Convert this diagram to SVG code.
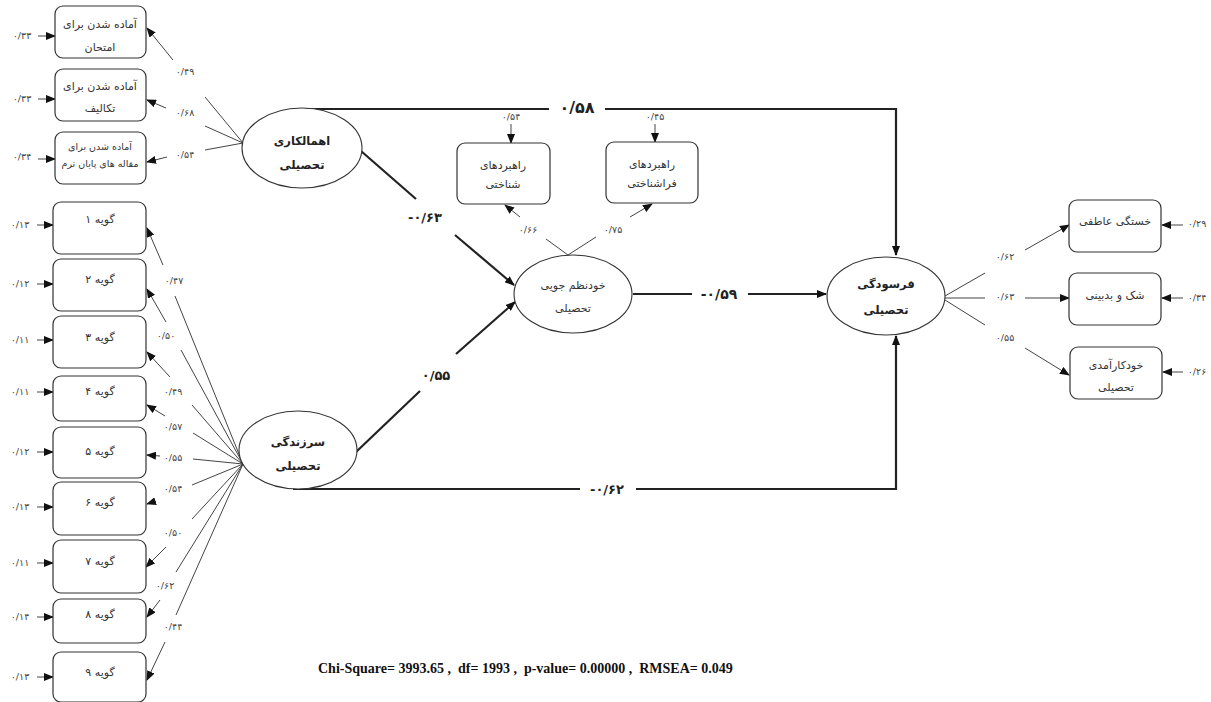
<svg xmlns="http://www.w3.org/2000/svg" width="1211" height="702" viewBox="0 0 1211 702">
<style>
.bg{fill:#fff}
.box{fill:#fff;stroke:#333;stroke-width:1.2}
.ell{fill:#fff;stroke:#333;stroke-width:1.1}
.fa{font-family:"DejaVu Sans",sans-serif;font-size:11px;fill:#333;text-anchor:middle}
.fas{font-family:"DejaVu Sans",sans-serif;font-size:9.5px;fill:#333;text-anchor:middle}
.fab{font-family:"DejaVu Sans",sans-serif;font-size:11.5px;font-weight:bold;fill:#222;text-anchor:middle}
.num{font-family:"DejaVu Sans",sans-serif;font-size:9.5px;fill:#444;text-anchor:middle}
.bnum{font-family:"DejaVu Sans",sans-serif;font-weight:bold;fill:#222;text-anchor:middle}
.thin{fill:none;stroke:#444;stroke-width:1}
.thick{fill:none;stroke:#222;stroke-width:2.2}
.stat{font-family:"Liberation Serif",serif;font-size:14px;font-weight:bold;fill:#111}
</style>
<defs>
<marker id="ah" markerUnits="userSpaceOnUse" markerWidth="10" markerHeight="8" refX="9" refY="4" orient="auto">
<path d="M0,0 L10,4 L0,8 z" fill="#111"/>
</marker>
</defs>
<rect class="bg" x="0" y="0" width="1211" height="702"/>

<g id="connectors">
<line class="thin" x1="38" y1="36" x2="55" y2="36" marker-end="url(#ah)"/>
<line class="thin" x1="38" y1="99" x2="55" y2="99" marker-end="url(#ah)"/>
<line class="thin" x1="38" y1="159" x2="55" y2="159" marker-end="url(#ah)"/>
<line class="thin" x1="37" y1="225" x2="53" y2="225" marker-end="url(#ah)"/>
<line class="thin" x1="37" y1="284" x2="53" y2="284" marker-end="url(#ah)"/>
<line class="thin" x1="37" y1="340" x2="53" y2="340" marker-end="url(#ah)"/>
<line class="thin" x1="37" y1="392" x2="53" y2="392" marker-end="url(#ah)"/>
<line class="thin" x1="37" y1="452" x2="53" y2="452" marker-end="url(#ah)"/>
<line class="thin" x1="37" y1="507" x2="53" y2="507" marker-end="url(#ah)"/>
<line class="thin" x1="37" y1="563" x2="53" y2="563" marker-end="url(#ah)"/>
<line class="thin" x1="37" y1="617" x2="53" y2="617" marker-end="url(#ah)"/>
<line class="thin" x1="37" y1="677" x2="53" y2="677" marker-end="url(#ah)"/>
<line class="thin" x1="243" y1="143" x2="205" y2="97"/>
<line class="thin" x1="173" y1="60" x2="147" y2="28" marker-end="url(#ah)"/>
<line class="thin" x1="243" y1="143" x2="205" y2="126"/>
<line class="thin" x1="166" y1="108" x2="147" y2="100" marker-end="url(#ah)"/>
<line class="thin" x1="243" y1="143" x2="205" y2="150"/>
<line class="thin" x1="167" y1="157" x2="147" y2="162" marker-end="url(#ah)"/>
<line class="thin" x1="243" y1="464" x2="175" y2="296"/>
<line class="thin" x1="163" y1="265" x2="147" y2="228" marker-end="url(#ah)"/>
<line class="thin" x1="243" y1="464" x2="181" y2="350"/>
<line class="thin" x1="166" y1="322" x2="147" y2="289" marker-end="url(#ah)"/>
<line class="thin" x1="243" y1="464" x2="192" y2="405"/>
<line class="thin" x1="170" y1="377" x2="147" y2="352" marker-end="url(#ah)"/>
<line class="thin" x1="243" y1="464" x2="193" y2="433"/>
<line class="thin" x1="165" y1="416" x2="147" y2="405" marker-end="url(#ah)"/>
<line class="thin" x1="243" y1="464" x2="193" y2="459"/>
<line class="thin" x1="160" y1="456" x2="147" y2="455" marker-end="url(#ah)"/>
<line class="thin" x1="243" y1="464" x2="192" y2="485"/>
<line class="thin" x1="156" y1="501" x2="147" y2="504" marker-end="url(#ah)"/>
<line class="thin" x1="243" y1="464" x2="192" y2="519"/>
<line class="thin" x1="166" y1="547" x2="146" y2="567" marker-end="url(#ah)"/>
<line class="thin" x1="243" y1="464" x2="176" y2="572"/>
<line class="thin" x1="160" y1="600" x2="147" y2="617" marker-end="url(#ah)"/>
<line class="thin" x1="243" y1="464" x2="176" y2="615"/>
<line class="thin" x1="165" y1="642" x2="147" y2="680" marker-end="url(#ah)"/>
<line class="thin" x1="568" y1="255" x2="546" y2="239"/>
<line class="thin" x1="520" y1="217" x2="505" y2="205" marker-end="url(#ah)"/>
<line class="thin" x1="568" y1="255" x2="596" y2="237"/>
<line class="thin" x1="630" y1="217" x2="652" y2="204" marker-end="url(#ah)"/>
<line class="thin" x1="511" y1="124" x2="511" y2="143" marker-end="url(#ah)"/>
<line class="thin" x1="655" y1="124" x2="655" y2="142" marker-end="url(#ah)"/>
<line class="thin" x1="945" y1="296" x2="985" y2="273"/>
<line class="thin" x1="1025" y1="250" x2="1069" y2="225" marker-end="url(#ah)"/>
<line class="thin" x1="945" y1="298" x2="985" y2="298"/>
<line class="thin" x1="1025" y1="298" x2="1069" y2="298" marker-end="url(#ah)"/>
<line class="thin" x1="945" y1="300" x2="985" y2="325"/>
<line class="thin" x1="1025" y1="348" x2="1069" y2="375" marker-end="url(#ah)"/>
<line class="thin" x1="1183" y1="225" x2="1162" y2="225" marker-end="url(#ah)"/>
<line class="thin" x1="1183" y1="298" x2="1162" y2="298" marker-end="url(#ah)"/>
<line class="thin" x1="1183" y1="372" x2="1163" y2="372" marker-end="url(#ah)"/>
<line class="thick" x1="305" y1="109" x2="549" y2="109"/>
<path class="thick" d="M605,109 H896 V255" marker-end="url(#ah)"/>
<line class="thick" x1="361" y1="151" x2="416" y2="199"/>
<line class="thick" x1="455" y1="235" x2="514" y2="285" marker-end="url(#ah)"/>
<line class="thick" x1="356" y1="452" x2="420" y2="391"/>
<line class="thick" x1="456" y1="354" x2="515" y2="302" marker-end="url(#ah)"/>
<line class="thick" x1="633" y1="294" x2="692" y2="294"/>
<line class="thick" x1="748" y1="294" x2="826" y2="294" marker-end="url(#ah)"/>
<line class="thick" x1="293" y1="489" x2="580" y2="489"/>
<path class="thick" d="M636,489 H896 V336" marker-end="url(#ah)"/>
</g>

<g id="labels">
<text class="num" x="22" y="39">۰/۳۳</text>
<text class="num" x="22" y="102">۰/۳۳</text>
<text class="num" x="22" y="160">۰/۳۴</text>
<text class="num" x="20" y="228">۰/۱۳</text>
<text class="num" x="20" y="287">۰/۱۲</text>
<text class="num" x="20" y="343">۰/۱۱</text>
<text class="num" x="20" y="395">۰/۱۱</text>
<text class="num" x="20" y="455">۰/۱۲</text>
<text class="num" x="20" y="510">۰/۱۳</text>
<text class="num" x="20" y="566">۰/۱۱</text>
<text class="num" x="20" y="620">۰/۱۴</text>
<text class="num" x="20" y="680">۰/۱۳</text>
<text class="num" x="185" y="75">۰/۴۹</text>
<text class="num" x="185" y="116">۰/۶۸</text>
<text class="num" x="185" y="158">۰/۵۴</text>
<text class="num" x="174" y="284">۰/۴۷</text>
<text class="num" x="166" y="339">۰/۵۰</text>
<text class="num" x="173" y="395">۰/۴۹</text>
<text class="num" x="173" y="430">۰/۵۷</text>
<text class="num" x="173" y="461">۰/۵۵</text>
<text class="num" x="173" y="492">۰/۵۴</text>
<text class="num" x="173" y="536">۰/۵۰</text>
<text class="num" x="165" y="589">۰/۶۲</text>
<text class="num" x="173" y="630">۰/۴۴</text>
<text class="num" x="511" y="120">۰/۵۴</text>
<text class="num" x="655" y="120">۰/۴۵</text>
<text class="num" x="528" y="233">۰/۶۶</text>
<text class="num" x="613" y="233">۰/۷۵</text>
<text class="num" x="1005" y="260">۰/۶۲</text>
<text class="num" x="1005" y="300">۰/۶۳</text>
<text class="num" x="1005" y="341">۰/۵۵</text>
<text class="num" x="1197" y="227">۰/۲۹</text>
<text class="num" x="1197" y="301">۰/۳۴</text>
<text class="num" x="1197" y="375">۰/۲۶</text>
<text class="bnum" x="577" y="113" font-size="16">۰/۵۸</text>
<text class="bnum" x="425" y="222" font-size="13">-۰/۶۳</text>
<text class="bnum" x="436" y="380" font-size="13">۰/۵۵</text>
<text class="bnum" x="719" y="299" font-size="14">-۰/۵۹</text>
<text class="bnum" x="607" y="494" font-size="13">-۰/۶۲</text>
<text class="stat" x="318" y="673" xml:space="preserve">Chi-Square= 3993.65 ,  df= 1993 ,  p-value= 0.00000 ,  RMSEA= 0.049</text>
</g>

<g id="n-exam"><rect class="box" x="55" y="6" width="91" height="52" rx="8"/><text class="fa" x="100" y="28">آماده شدن برای</text><text class="fa" x="100" y="51">امتحان</text></g>
<g id="n-assign"><rect class="box" x="55" y="69" width="91" height="52" rx="8"/><text class="fa" x="100" y="90">آماده شدن برای</text><text class="fa" x="100" y="112">تکالیف</text></g>
<g id="n-paper"><rect class="box" x="55" y="132" width="91" height="52" rx="8"/><text class="fas" x="100" y="150">آماده شدن برای</text><text class="fas" x="100" y="167">مقاله های پایان ترم</text></g>

<g id="n-g1"><rect class="box" x="53" y="202" width="93" height="52" rx="8"/><text class="fa" x="100" y="223">گویه ۱</text></g>
<g id="n-g2"><rect class="box" x="53" y="259" width="93" height="52" rx="8"/><text class="fa" x="100" y="283">گویه ۲</text></g>
<g id="n-g3"><rect class="box" x="53" y="316" width="93" height="52" rx="8"/><text class="fa" x="100" y="341">گویه ۳</text></g>
<g id="n-g4"><rect class="box" x="53" y="376" width="93" height="45" rx="8"/><text class="fa" x="100" y="395">گویه ۴</text></g>
<g id="n-g5"><rect class="box" x="53" y="427" width="93" height="51" rx="8"/><text class="fa" x="100" y="455">گویه ۵</text></g>
<g id="n-g6"><rect class="box" x="53" y="482" width="93" height="53" rx="8"/><text class="fa" x="100" y="506">گویه ۶</text></g>
<g id="n-g7"><rect class="box" x="53" y="540" width="93" height="53" rx="8"/><text class="fa" x="100" y="565">گویه ۷</text></g>
<g id="n-g8"><rect class="box" x="53" y="599" width="93" height="44" rx="8"/><text class="fa" x="100" y="618">گویه ۸</text></g>
<g id="n-g9"><rect class="box" x="53" y="652" width="93" height="50" rx="8"/><text class="fa" x="100" y="676">گویه ۹</text></g>

<g id="n-procrastination"><ellipse class="ell" cx="302" cy="148" rx="60" ry="40"/><text class="fab" x="302" y="145">اهمالکاری</text><text class="fab" x="302" y="169">تحصیلی</text></g>
<g id="n-vitality"><ellipse class="ell" cx="298" cy="450" rx="59" ry="39"/><text class="fab" x="298" y="446">سرزندگی</text><text class="fab" x="298" y="470">تحصیلی</text></g>
<g id="n-cognitive"><rect class="box" x="457" y="143" width="93" height="61" rx="8"/><text class="fa" x="503" y="169">راهبردهای</text><text class="fa" x="503" y="188">شناختی</text></g>
<g id="n-metacognitive"><rect class="box" x="606" y="142" width="92" height="61" rx="8"/><text class="fa" x="652" y="168">راهبردهای</text><text class="fa" x="652" y="187">فراشناختی</text></g>
<g id="n-selfreg"><ellipse class="ell" cx="573" cy="294" rx="59" ry="39"/><text class="fa" x="573" y="289">خودنظم جویی</text><text class="fa" x="573" y="312">تحصیلی</text></g>
<g id="n-burnout"><ellipse class="ell" cx="886" cy="296" rx="59" ry="39"/><text class="fab" x="886" y="288">فرسودگی</text><text class="fab" x="886" y="314">تحصیلی</text></g>
<g id="n-exhaustion"><rect class="box" x="1069" y="200" width="92" height="52" rx="8"/><text class="fa" x="1115" y="225">خستگی عاطفی</text></g>
<g id="n-cynicism"><rect class="box" x="1069" y="273" width="92" height="52" rx="8"/><text class="fa" x="1115" y="299">شک و بدبینی</text></g>
<g id="n-efficacy"><rect class="box" x="1070" y="347" width="92" height="52" rx="8"/><text class="fa" x="1116" y="369">خودکارآمدی</text><text class="fa" x="1116" y="391">تحصیلی</text></g>
</svg>
